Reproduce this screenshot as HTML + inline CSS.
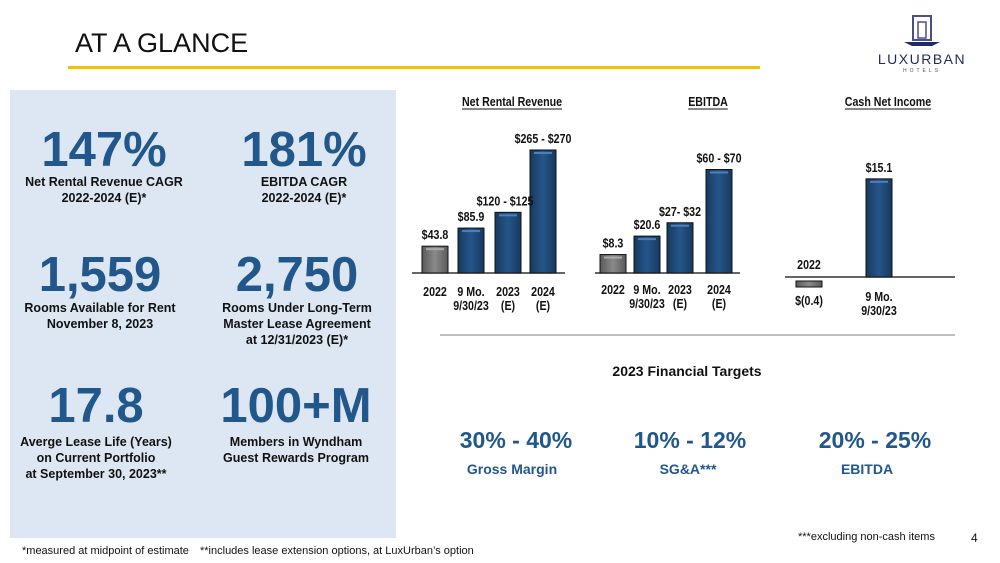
<!DOCTYPE html>
<html><head><meta charset="utf-8"><style>
html,body{margin:0;padding:0;background:#fff}
svg{display:block;font-family:"Liberation Sans",Arial,sans-serif}
</style></head><body>
<svg id="s" width="1000" height="563" viewBox="0 0 1000 563" xmlns="http://www.w3.org/2000/svg">
<defs>
<linearGradient id="gb" x1="0" x2="1"><stop offset="0" stop-color="#173a5e"/><stop offset="0.5" stop-color="#25558a"/><stop offset="1" stop-color="#173a5e"/></linearGradient>
<linearGradient id="gg" x1="0" x2="1"><stop offset="0" stop-color="#5a5a5a"/><stop offset="0.5" stop-color="#8a8a8a"/><stop offset="1" stop-color="#5a5a5a"/></linearGradient>
</defs>
<text x="75" y="52" font-size="27" fill="#111">AT A GLANCE</text>
<rect x="68" y="66" width="692" height="3" fill="#f2c200"/>
<g>
<rect x="913" y="16" width="18" height="24" fill="none" stroke="#4a4f8a" stroke-width="2"/>
<rect x="918" y="22" width="8" height="16" fill="none" stroke="#4a4f8a" stroke-width="1.5"/>
<path d="M904 42 L940 42 L932 46 L912 46Z" fill="#1f2a6a"/>
<text x="922" y="64" font-size="14" text-anchor="middle" fill="#1f2a5a" letter-spacing="1.5">LUXURBAN</text>
<text x="922" y="72" font-size="5" text-anchor="middle" fill="#555" letter-spacing="3">HOTELS</text>
</g>
<rect x="10" y="90" width="386" height="448" fill="#dde7f3"/>
<g fill="#21578a" font-weight="bold" text-anchor="middle">
<text x="104" y="166" font-size="49">147%</text>
<text x="304" y="166" font-size="49">181%</text>
<text x="100" y="291" font-size="49">1,559</text>
<text x="297" y="291" font-size="49">2,750</text>
<text x="96" y="422" font-size="49">17.8</text>
<text x="296" y="422" font-size="49">100+M</text>
</g>
<g fill="#111" font-weight="bold" font-size="12.5" text-anchor="middle">
<text x="104" y="186">Net Rental Revenue CAGR</text><text x="104" y="202">2022-2024 (E)*</text>
<text x="304" y="186">EBITDA CAGR</text><text x="304" y="202">2022-2024 (E)*</text>
<text x="100" y="312">Rooms Available for Rent</text><text x="100" y="328">November 8, 2023</text>
<text x="297" y="312">Rooms Under Long-Term</text><text x="297" y="328">Master Lease Agreement</text><text x="297" y="344">at 12/31/2023 (E)*</text>
<text x="96" y="446">Averge Lease Life (Years)</text><text x="96" y="462">on Current Portfolio</text><text x="96" y="478">at September 30, 2023**</text>
<text x="296" y="446">Members in Wyndham</text><text x="296" y="462">Guest Rewards Program</text>
</g>
<g id="charts" font-weight="bold" font-size="13" fill="#111" text-anchor="middle"></g>
<line x1="440" y1="335" x2="955" y2="335" stroke="#aaa" stroke-width="1.5"/>
<text x="687" y="376" font-size="14" font-weight="bold" text-anchor="middle" fill="#111">2023 Financial Targets</text>
<g fill="#21578a" font-weight="bold" text-anchor="middle">
<text x="516" y="448" font-size="23">30% - 40%</text><text x="512" y="474" font-size="14">Gross Margin</text>
<text x="690" y="448" font-size="23">10% - 12%</text><text x="688" y="474" font-size="14">SG&amp;A***</text>
<text x="875" y="448" font-size="23">20% - 25%</text><text x="867" y="474" font-size="14">EBITDA</text>
</g>
<g font-size="11" fill="#111">
<text x="22" y="554">*measured at midpoint of estimate</text>
<text x="200" y="554">**includes lease extension options, at LuxUrban’s option</text>
<text x="798" y="540">***excluding non-cash items</text>
<text x="971" y="542" font-size="12">4</text>
</g>
</svg>
<script>
const nrrValues=[43.8,85.9,122.5,267.5];
const nrrLabels=["$43.8","$85.9","$120 - $125","$265 - $270"];
const nrrCats=[["2022"],["9 Mo.","9/30/23"],["2023","(E)"],["2024","(E)"]];
const ebitdaValues=[8.3,20.6,29.5,65];
const ebitdaLabels=["$8.3","$20.6","$27- $32","$60 - $70"];
const ebitdaCats=[["2022"],["9 Mo.","9/30/23"],["2023","(E)"],["2024","(E)"]];
const cniValues=[-0.4,15.1];
const cniLabels=["$(0.4)","$15.1"];
const cniCats=[["2022"],["9 Mo.","9/30/23"]];
const NS="http://www.w3.org/2000/svg";
const g=document.getElementById('charts');
function el(t,a,p){const e=document.createElementNS(NS,t);for(const k in a)e.setAttribute(k,a[k]);(p||g).appendChild(e);return e;}
function txt(x,y,s,p){const t=el('text',{x:0,y:0,transform:'translate('+x+','+y+') scale(0.82,1)'},p);t.textContent=s;return t;}
function chart(name,title,tx,xs,w,base,vals,labs,cats,hFn,lineX1,lineX2,catY){
 const cg=el('g',{});
 
 
 const t=txt(tx,106,title,cg);
 
 
 const tl=t.getComputedTextLength()*0.82;
 el('line',{x1:tx-tl/2,x2:tx+tl/2,y1:109,y2:109,stroke:'#111','stroke-width':1},cg);
 el('line',{x1:lineX1,x2:lineX2,y1:base,y2:base,stroke:'#333','stroke-width':1.5},cg);
 vals.forEach((v,i)=>{
  const h=hFn(v);const x=xs[i];
  const neg=v<0;
  const y=neg?base+4:base-h;const hh=neg?6:h;
  const r=el('rect',{x:x,y:y,width:w,height:hh,fill:(i==0?'url(#gg)':'url(#gb)'),stroke:'#111','stroke-width':1},cg);
  
  
  if(!neg&&hh>8)el('rect',{x:x+4,y:y+2,width:w-8,height:2,fill:i==0?'#aaa':'#4f7fb8'},cg);
 });
 vals.forEach((v,i)=>{
  const h=hFn(v);const x=xs[i];
  const neg=v<0;
  const y=neg?base+4:base-h;
  const lb=txt(x+w/2-(i==2&&name=='nrr'?3:0),neg?base+28:y-7,labs[i],cg);
  
  
  cats[i].forEach((c,j)=>{const ct=txt(x+w/2,(neg&&i==0)?base-8:(name=='cni'?base+24+j*14:catY+j*14),c,cg);
   
   });
 });
}
chart('nrr','Net Rental Revenue',512,[422,458,495,530],26,273,nrrValues,nrrLabels,nrrCats,v=>8+0.43*v,412,565,296);
chart('ebitda','EBITDA',708,[600,634,667,706],26,273,ebitdaValues,ebitdaLabels,ebitdaCats,v=>6+1.5*v,595,740,294);
chart('cni','Cash Net Income',888,[796,866],26,277,cniValues,cniLabels,cniCats,v=>6.5*Math.abs(v),785,955,0);
</script>
</body></html>
